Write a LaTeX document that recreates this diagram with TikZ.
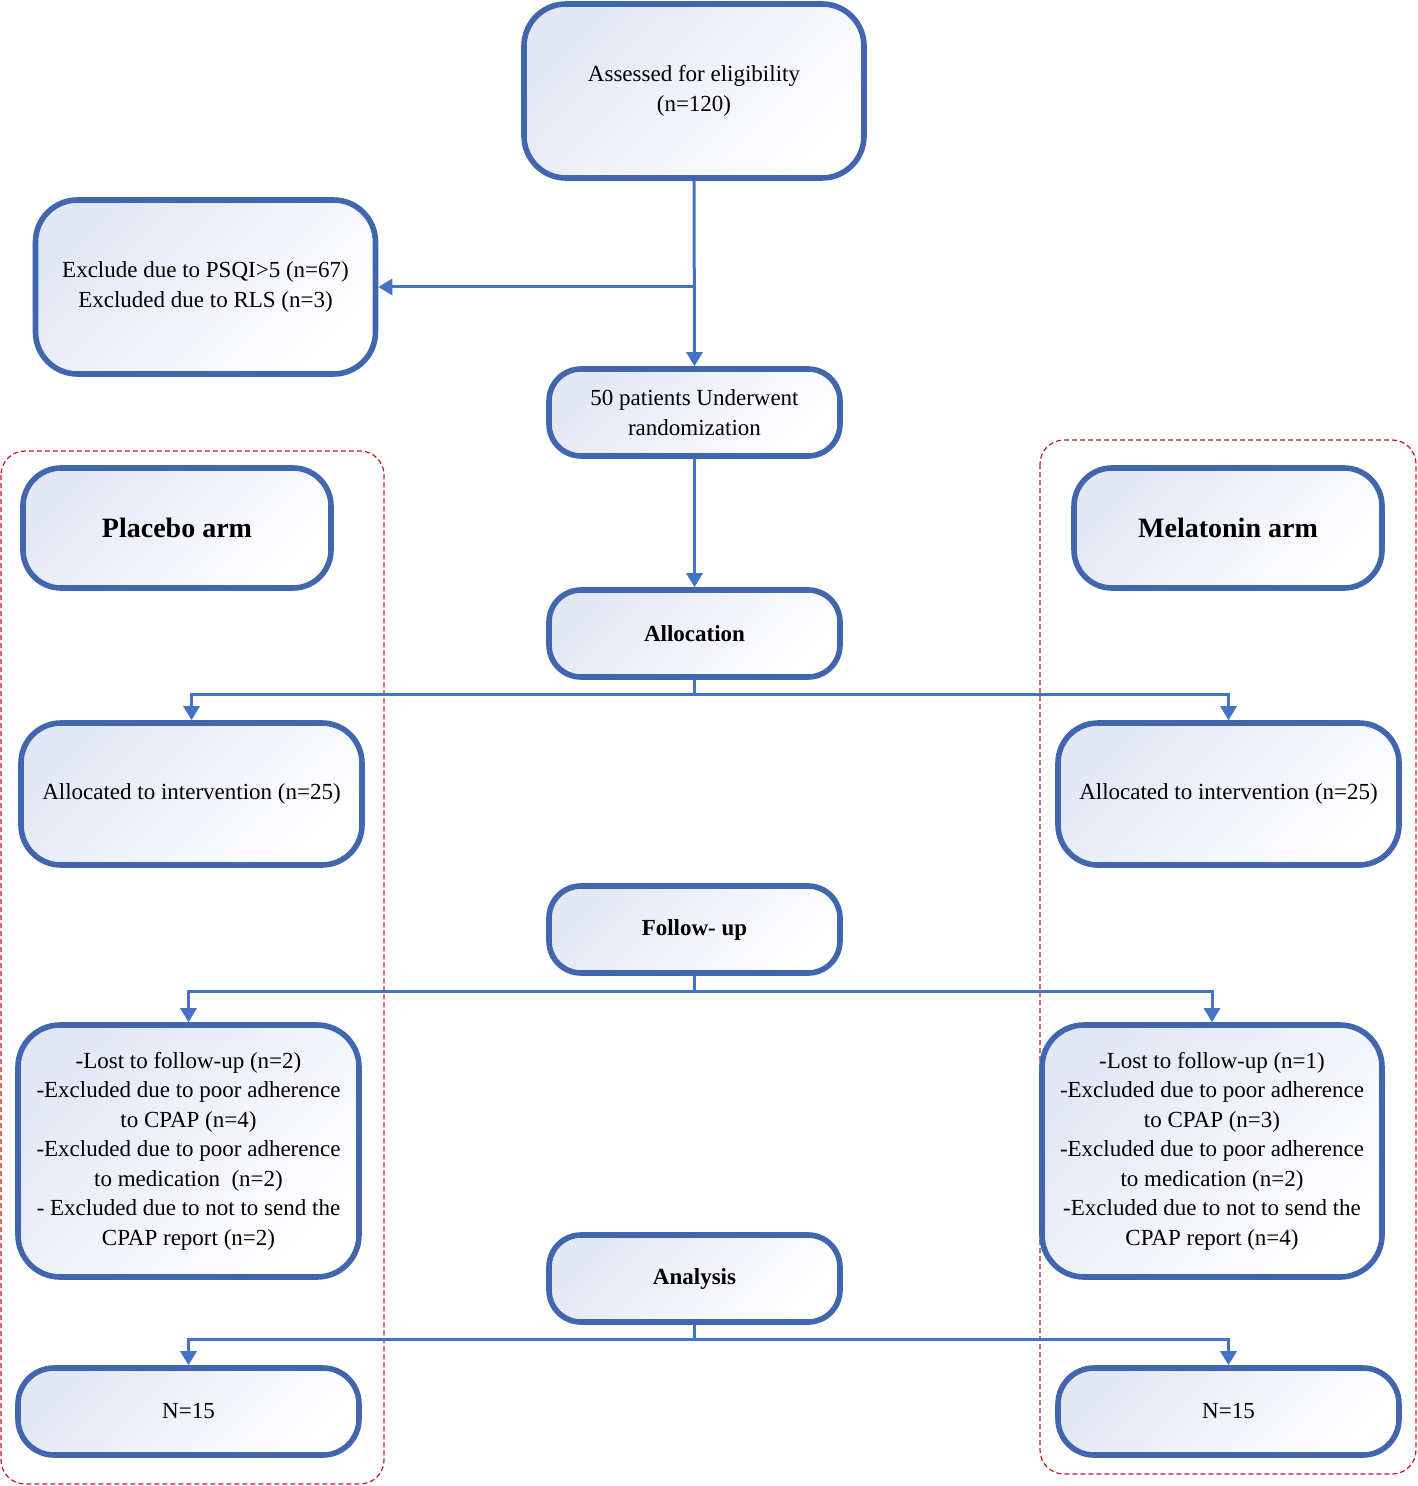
\documentclass[tikz,border=0pt]{standalone}
\usepackage{fontspec}
\setmainfont{Liberation Serif}
\usetikzlibrary{arrows.meta}
\definecolor{boxblue}{HTML}{4166AE}
\definecolor{lineblue}{HTML}{4472C4}
\definecolor{fillblue}{HTML}{E3E7F4}
\definecolor{dashred}{HTML}{C8161D}
\begin{document}
\begin{tikzpicture}[x=0.5pt,y=-0.5pt,
  box/.style={draw=boxblue, line width=2.8pt, rounded corners=18pt, align=center,
    top color=fillblue, bottom color=white, shading angle=45, inner sep=0pt,
    font=\fontsize{11.5}{14.75}\selectfont},
  bigbox/.style={box, minimum width=170pt, minimum height=87pt, rounded corners=21pt},
  midbox/.style={box, minimum width=145.5pt, minimum height=43.5pt, rounded corners=16pt},
  armbox/.style={box, minimum width=154pt, minimum height=60pt, rounded corners=19pt,
    font=\fontsize{14}{17}\selectfont\bfseries},
  allocbox/.style={box, minimum width=170.5pt, minimum height=71pt, rounded corners=20pt},
  lostbox/.style={box, minimum width=170.5pt, minimum height=126pt, rounded corners=21pt},
  nbox/.style={box, minimum width=170.5pt, minimum height=43.5pt, rounded corners=18pt},
  conn/.style={draw=lineblue, line width=1.5pt},
  arr/.style={conn, -{Triangle[width=8pt,length=7pt]}},
  reddash/.style={draw=dashred, line width=0.6pt, dash pattern=on 2.5pt off 1.5pt, rounded corners=12pt}
]
\useasboundingbox (0,0) rectangle (1417,1486);

% dashed arm frames
\draw[reddash] (1,451) rectangle (384,1484);
\draw[reddash] (1040,440) rectangle (1416,1474);

% nodes
\node[bigbox] (assess) at (694,91) {Assessed for eligibility\\(n=120)};
\node[bigbox] (excl) at (205.5,287) {Exclude due to PSQI>5 (n=67)\\Excluded due to RLS (n=3)};
\node[midbox] (rand) at (694.5,412.5) {50 patients Underwent\\randomization};
\node[armbox] (placebo) at (177,528) {Placebo arm};
\node[armbox] (melat) at (1228,528) {Melatonin arm};
\node[midbox, font=\fontsize{11.5}{14.75}\selectfont\bfseries] (alloc) at (694.5,633.5) {Allocation};
\node[allocbox] (allocL) at (191.5,794) {Allocated to intervention (n=25)};
\node[allocbox] (allocR) at (1228.5,794) {Allocated to intervention (n=25)};
\node[midbox, font=\fontsize{11.5}{14.75}\selectfont\bfseries] (follow) at (694.5,929.5) {Follow- up};
\node[lostbox] (lostL) at (188.5,1151) {-Lost to follow-up (n=2)\\-Excluded due to poor adherence\\to CPAP (n=4)\\-Excluded due to poor adherence\\to medication\ \ (n=2)\\- Excluded due to not to send the\\CPAP report (n=2)};
\node[lostbox, minimum width=170pt] (lostR) at (1212,1151) {-Lost to follow-up (n=1)\\-Excluded due to poor adherence\\to CPAP (n=3)\\-Excluded due to poor adherence\\to medication (n=2)\\-Excluded due to not to send the\\CPAP report (n=4)};
\node[midbox, font=\fontsize{11.5}{14.75}\selectfont\bfseries] (analysis) at (694.5,1278.5) {Analysis};
\node[nbox] (nL) at (188.5,1411.5) {N=15};
\node[nbox] (nR) at (1228.5,1411.5) {N=15};

% connectors
\draw[arr] (assess.south) -- (rand.north);
\draw[arr] (assess.south |- excl.east) -- (excl.east);
\draw[arr] (rand.south) -- (alloc.north);

\draw[conn] (alloc.south) -- ++(0,15) coordinate (a1);
\draw[arr] (a1) -| (allocL.north);
\draw[arr] (a1) -| (allocR.north);

\draw[conn] (follow.south) -- ++(0,16) coordinate (f1);
\draw[arr] (f1) -| (lostL.north);
\draw[arr] (f1) -| (lostR.north);

\draw[conn] (analysis.south) -- ++(0,15) coordinate (n1);
\draw[arr] (n1) -| (nL.north);
\draw[arr] (n1) -| (nR.north);
\end{tikzpicture}
\end{document}
